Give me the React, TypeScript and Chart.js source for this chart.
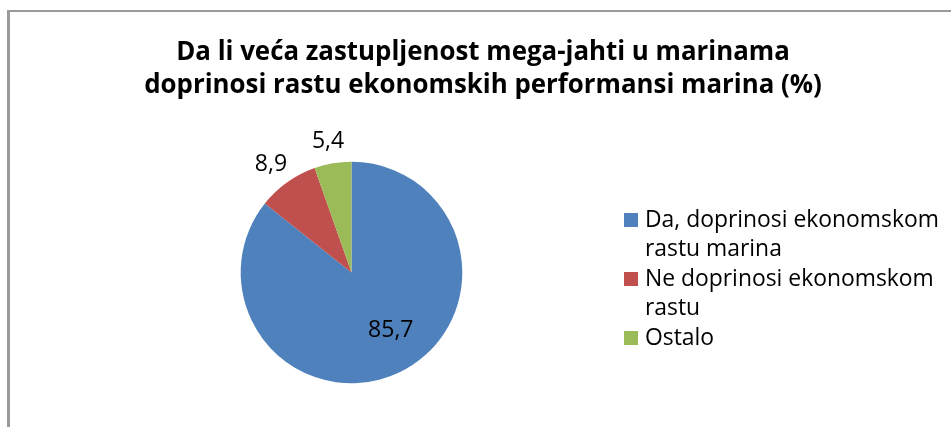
import React, { useEffect, useRef } from "react";
import { Chart, registerables } from "chart.js";

Chart.register(...registerables);

const TITLE_LINES = [
  "Da li veća zastupljenost mega-jahti u marinama",
  "doprinosi rastu ekonomskih performansi marina (%)",
];
const CATEGORIES = [
  ["Da, doprinosi ekonomskom", "rastu marina"],
  ["Ne doprinosi ekonomskom", "rastu"],
  ["Ostalo"],
];
const VALUES = [85.7, 8.9, 5.4];
const VALUE_LABELS = ["85,7", "8,9", "5,4"];
const COLORS = ["#4F81BD", "#C0504D", "#9BBB59"];

const FONT = "'Open Sans', Lato, sans-serif";

function fitSize(ctx: CanvasRenderingContext2D, weight: string, text: string, target: number) {
  ctx.font = `${weight} 100px ${FONT}`;
  const w = ctx.measureText(text).width;
  return (100 * target) / w;
}

const decorPlugin = {
  id: "decor",
  beforeDraw(chart: any) {
    const { ctx, width } = chart;
    ctx.save();
    ctx.fillStyle = "#ffffff";
    ctx.fillRect(0, 0, width, chart.height);
    ctx.fillStyle = "#9a9a9a";
    ctx.fillRect(7, 10, 3, chart.height - 10);
    ctx.fillRect(7, 10, width - 7, 2);
    // title
    const size = fitSize(ctx, "bold", TITLE_LINES[1], 678);
    ctx.fillStyle = "#000000";
    ctx.font = `bold ${size}px ${FONT}`;
    ctx.textAlign = "center";
    ctx.textBaseline = "alphabetic";
    const cx = 483;
    TITLE_LINES.forEach((line, i) => {
      ctx.fillText(line, cx, 60 + i * 33);
    });
    ctx.restore();
  },
  afterDatasetsDraw(chart: any) {
    const { ctx } = chart;
    const meta = chart.getDatasetMeta(0);
    ctx.save();
    ctx.fillStyle = "#000000";
    ctx.font = `23px ${FONT}`;
    ctx.textAlign = "center";
    ctx.textBaseline = "middle";
    meta.data.forEach((arc: any, i: number) => {
      const p = arc.getProps(["x", "y", "startAngle", "endAngle", "outerRadius"], true);
      const mid = (p.startAngle + p.endAngle) / 2;
      const frac = (p.endAngle - p.startAngle) / (Math.PI * 2);
      const text = VALUE_LABELS[i];
      let lx: number, ly: number;
      if (frac > 0.3) {
        const r = p.outerRadius * 0.63;
        lx = p.x + Math.cos(mid) * r + 9;
        ly = p.y + Math.sin(mid) * r - 5;
      } else {
        const r = p.outerRadius + 12;
        const w = ctx.measureText(text).width / 2;
        const h = 10;
        lx = p.x + Math.cos(mid) * r + Math.cos(mid) * w;
        ly = p.y + Math.sin(mid) * r + Math.sin(mid) * h;
      }
      ctx.fillText(text, lx, ly);
    });

    // legend
    const sqX = 624;
    const sqSize = 14;
    const textX = 645;
    const lineH = 29.5;
    let y = 220;
    ctx.textAlign = "left";
    const lsize = fitSize(ctx, "normal", CATEGORIES[0][0], 294);
    ctx.font = `${lsize}px ${FONT}`;
    CATEGORIES.forEach((lines, i) => {
      ctx.fillStyle = COLORS[i];
      ctx.fillRect(sqX, y - sqSize / 2, sqSize, sqSize);
      ctx.fillStyle = "#000000";
      lines.forEach((t, j) => {
        ctx.fillText(t, textX, y + j * lineH);
      });
      y += lines.length * lineH;
    });
    ctx.restore();
  },
};

export default function App() {
  const ref = useRef<HTMLCanvasElement | null>(null);
  useEffect(() => {
    if (!ref.current) return;
    const chart = new Chart(ref.current, {
      type: "pie",
      data: {
        labels: CATEGORIES.map((c) => c.join(" ")),
        datasets: [
          {
            data: VALUES,
            backgroundColor: COLORS,
            borderWidth: 0,
          },
        ],
      },
      options: {
        responsive: true,
        maintainAspectRatio: false,
        animation: false,
        layout: {
          padding: { left: 240.7, right: 488.7, top: 161.7, bottom: 43.7 },
        },
        plugins: {
          legend: { display: false },
          title: { display: false },
          tooltip: { enabled: false },
        },
      },
      plugins: [decorPlugin],
    });
    return () => chart.destroy();
  }, []);
  return (
    <div style={{ position: "absolute", left: 0, top: 0, width: 951, height: 427, background: "#fff" }}>
      <canvas ref={ref} />
    </div>
  );
}
